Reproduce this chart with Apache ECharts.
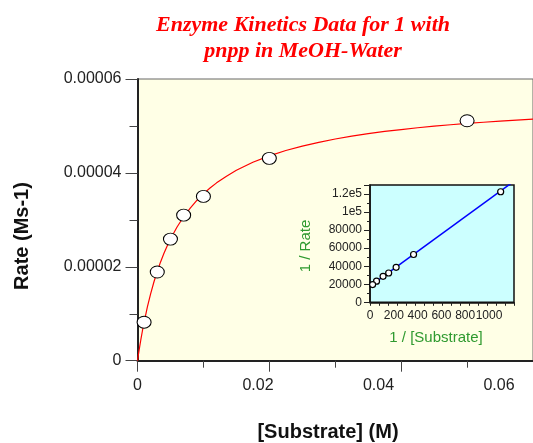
<!DOCTYPE html>
<html><head><meta charset="utf-8">
<script src="https://cdn.jsdelivr.net/npm/echarts@6/dist/echarts.min.js"></script>
<style>html,body{margin:0;padding:0;background:#fff}#c{width:533px;height:443px}</style>
</head><body><div id="c"></div>
<script>
// ---- data ----
const substrate = [0.001, 0.003, 0.005, 0.007, 0.01, 0.02, 0.05];
const rate = [8.2e-6, 1.89e-5, 2.59e-5, 3.10e-5, 3.50e-5, 4.31e-5, 5.11e-5];
// fitted Michaelis-Menten curve
const fitX = [0, 0.00025, 0.0005, 0.00075, 0.001, 0.0015, 0.002, 0.0025, 0.003, 0.0035, 0.004, 0.0045, 0.005, 0.006, 0.007, 0.008, 0.009, 0.01, 0.011, 0.012, 0.0135, 0.015, 0.0175, 0.02, 0.0225, 0.025, 0.0275, 0.03, 0.0325, 0.035, 0.0375, 0.04, 0.0425, 0.045, 0.0475, 0.05, 0.0525, 0.055, 0.0575, 0.06];
const fitRate = [0, 2.293e-6, 4.414e-6, 6.383e-6, 8.188e-6, 1.1453e-5, 1.4304e-5, 1.6814e-5, 1.9045e-5, 2.1040e-5, 2.2828e-5, 2.4450e-5, 2.5917e-5, 2.8487e-5, 3.0659e-5, 3.2518e-5, 3.4128e-5, 3.5535e-5, 3.6775e-5, 3.7877e-5, 3.9303e-5, 4.0550e-5, 4.2276e-5, 4.3629e-5, 4.4769e-5, 4.5712e-5, 4.6508e-5, 4.7214e-5, 4.7830e-5, 4.8350e-5, 4.8828e-5, 4.9237e-5, 4.9618e-5, 4.9951e-5, 5.0257e-5, 5.0537e-5, 5.0786e-5, 5.1026e-5, 5.1238e-5, 5.1442e-5];
// inset: Lineweaver-Burk
const invSubstrate = [1000, 333.3, 200, 142.9, 100, 50, 20];
const invRate = [122500, 53000, 38800, 32500, 28800, 23400, 19600];
const lbLineX = [0, 1100];
const lbLineY = [18000, 134000];
// tick labels
const mainXTickLabels = ['0', '0.02', '0.04', '0.06'];
const mainYTickLabels = ['0', '0.00002', '0.00004', '0.00006'];
const insetXTickLabels = ['0', '200', '400', '600', '800', '1000'];
const insetYTickLabels = ['0', '20000', '40000', '60000', '80000', '1e5', '1.2e5'];

function pick(labels, step) {
  return function (v) {
    const i = Math.round(v / step);
    return (Math.abs(v - i * step) < step * 1e-6 && labels[i] !== undefined) ? labels[i] : '';
  };
}

const chart = echarts.init(document.getElementById('c'), null, {renderer: 'canvas'});
const sans = 'Liberation Sans';
const green = '#2f9a2f';

chart.setOption({
  animation: false,
  backgroundColor: '#ffffff',
  grid: [
    {left: 137.5, top: 79, width: 397.5, height: 281.7, show: true,
     backgroundColor: '#FFFFE6', borderColor: '#666', borderWidth: 1},
    {left: 370, top: 185, width: 144, height: 117.3, show: true,
     backgroundColor: '#CCFFFF', borderColor: '#111', borderWidth: 1.5}
  ],
  xAxis: [
    {gridIndex: 0, type: 'value', position: 'bottom', min: 0, max: 0.06, interval: 0.02,
     axisLine: {show: true, onZero: false, lineStyle: {color: '#222', width: 2}},
     axisTick: {show: true, length: 11, lineStyle: {color: '#444', width: 1}},
     minorTick: {show: true, splitNumber: 2, length: 7, lineStyle: {color: '#444', width: 1}},
     axisLabel: {show: false}, splitLine: {show: false}},
    {gridIndex: 0, type: 'value', position: 'bottom', min: 0, max: 0.06565, interval: 0.02,
     axisLine: {show: false, onZero: false}, axisTick: {show: false}, splitLine: {show: false},
     axisLabel: {show: true, fontSize: 16, fontFamily: sans, color: '#222', margin: 17,
       showMaxLabel: false, formatter: pick(mainXTickLabels, 0.02)}},
    {gridIndex: 1, type: 'value', position: 'bottom', min: 0, max: 1102,
     axisLine: {show: true, onZero: false, lineStyle: {color: '#111', width: 1.5}},
     axisTick: {show: false}, axisLabel: {show: false}, splitLine: {show: false}},
    {gridIndex: 1, type: 'value', position: 'bottom', min: 0, max: 1210, interval: 200,
     axisLine: {show: false, onZero: false}, axisTick: {show: false}, splitLine: {show: false},
     axisLabel: {show: true, fontSize: 12, fontFamily: sans, color: '#222', margin: 7,
       showMaxLabel: false, formatter: pick(insetXTickLabels, 200)}},
    {gridIndex: 1, type: 'value', position: 'bottom', min: 0, max: 16, interval: 1,
     axisLine: {show: false, onZero: false}, splitLine: {show: false}, axisLabel: {show: false},
     axisTick: {show: true, length: 3.5, lineStyle: {color: '#222', width: 1}}}
  ],
  yAxis: [
    {gridIndex: 0, type: 'value', min: 0, max: 0.00006, interval: 0.00002,
     axisLine: {show: true, onZero: false, lineStyle: {color: '#222', width: 2}},
     axisTick: {show: true, length: 12, lineStyle: {color: '#444', width: 1}},
     minorTick: {show: true, splitNumber: 2, length: 8, lineStyle: {color: '#444', width: 1}},
     splitLine: {show: false},
     axisLabel: {fontSize: 16, fontFamily: sans, color: '#222', margin: 16,
       formatter: pick(mainYTickLabels, 0.00002)}},
    {gridIndex: 1, type: 'value', min: 0, max: 130000, interval: 20000,
     axisLine: {show: true, onZero: false, lineStyle: {color: '#111', width: 1.5}},
     axisTick: {show: true, length: 6, lineStyle: {color: '#222', width: 1}},
     minorTick: {show: true, splitNumber: 2, length: 3, lineStyle: {color: '#222', width: 1}},
     splitLine: {show: false},
     axisLabel: {fontSize: 12, fontFamily: sans, color: '#222', margin: 8,
       showMaxLabel: false, formatter: pick(insetYTickLabels, 20000)}}
  ],
  series: [
    {type: 'line', xAxisIndex: 0, yAxisIndex: 0, showSymbol: false, smooth: false,
     lineStyle: {color: '#ff0000', width: 1.2}, z: 2,
     data: fitX.map((x, i) => [x, fitRate[i]])},
    {type: 'scatter', xAxisIndex: 0, yAxisIndex: 0, symbol: 'circle', symbolSize: [14, 12],
     itemStyle: {color: '#ffffff', borderColor: '#000', borderWidth: 1, opacity: 1}, z: 3,
     data: substrate.map((x, i) => [x, rate[i]])},
    {type: 'line', xAxisIndex: 2, yAxisIndex: 1, showSymbol: false, clip: true,
     lineStyle: {color: '#0000ff', width: 1.5}, z: 4,
     data: lbLineX.map((x, i) => [x, lbLineY[i]])},
    {type: 'scatter', xAxisIndex: 2, yAxisIndex: 1, symbol: 'circle', symbolSize: 6,
     itemStyle: {color: '#ffffff', borderColor: '#000', borderWidth: 1.2, opacity: 1}, z: 5,
     data: invSubstrate.map((x, i) => [x, invRate[i]])}
  ],
  graphic: [
    {type: 'text', x: 303, y: 38, z: 10, style: {text: 'Enzyme Kinetics Data for 1 with\npnpp in MeOH-Water',
      align: 'center', verticalAlign: 'middle', lineHeight: 26,
      font: 'italic bold 22px "Liberation Serif"', fill: '#ff0000'}},
    {type: 'text', x: 22.5, y: 236, rotation: Math.PI / 2, z: 10, style: {text: 'Rate (Ms-1)',
      align: 'center', verticalAlign: 'middle', font: 'bold 20px "Liberation Sans"', fill: '#111'}},
    {type: 'text', x: 328, y: 432, z: 10, style: {text: '[Substrate] (M)',
      align: 'center', verticalAlign: 'middle', font: 'bold 20px "Liberation Sans"', fill: '#111'}},
    {type: 'text', x: 306, y: 246, rotation: Math.PI / 2, z: 10, style: {text: '1 / Rate',
      align: 'center', verticalAlign: 'middle', font: '15px "Liberation Sans"', fill: green}},
    {type: 'text', x: 436, y: 337.5, z: 10, style: {text: '1 / [Substrate]',
      align: 'center', verticalAlign: 'middle', font: '15px "Liberation Sans"', fill: green}}
  ]
});
</script>
</body></html>
